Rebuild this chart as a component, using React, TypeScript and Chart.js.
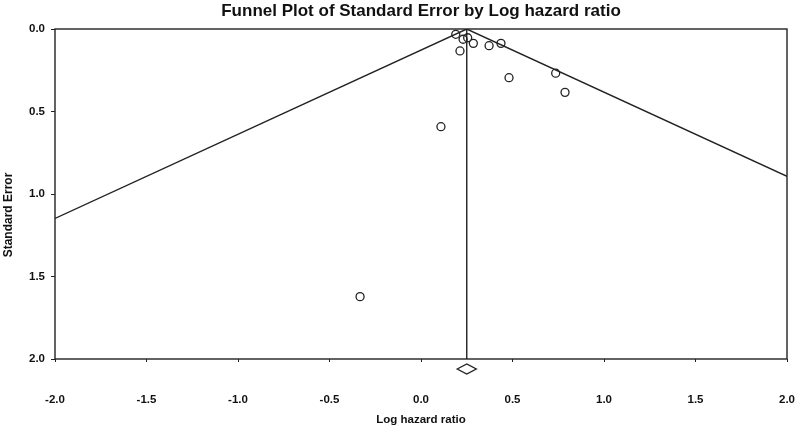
import { useEffect, useRef } from 'react';
import { Chart, registerables } from 'chart.js';

Chart.register(...registerables);

// ---- Data ----
const chartTitle = 'Funnel Plot of Standard Error by Log hazard ratio';
const xAxisTitle = 'Log hazard ratio';
const yAxisTitle = 'Standard Error';

const studyLogHR = [0.19, 0.23, 0.255, 0.286, 0.213, 0.372, 0.437, 0.481, 0.736, 0.787, 0.109, -0.333];
const studySE = [0.032, 0.062, 0.053, 0.087, 0.133, 0.101, 0.087, 0.295, 0.268, 0.384, 0.592, 1.622];

const summaryLogHR = 0.25;
const funnelLeftX = [0.25, -2.0];
const funnelLeftSE = [0, 1.148];
const funnelRightX = [0.25, 2.0];
const funnelRightSE = [0, 0.893];
const meanLineX = [0.25, 0.25];
const meanLineSE = [0, 2.0];

const xMin = -2.0;
const xMax = 2.0;
const xStep = 0.5;
const yMin = 0.0;
const yMax = 2.0;
const yStep = 0.5;

const INK = '#222222';
const FONT = "'Liberation Sans', Arial, sans-serif";

const textPlugin = {
  id: 'funnelText',
  afterDraw(chart: any) {
    const { ctx, chartArea, height } = chart;
    ctx.save();
    // frame
    ctx.strokeStyle = INK;
    ctx.lineWidth = 1.4;
    ctx.strokeRect(chartArea.left, chartArea.top, chartArea.right - chartArea.left, chartArea.bottom - chartArea.top);

    // summary diamond under the axis
    const dx = chart.scales.x.getPixelForValue(summaryLogHR);
    const dy = chartArea.bottom + 10;
    ctx.beginPath();
    ctx.moveTo(dx - 9.5, dy);
    ctx.lineTo(dx, dy - 5);
    ctx.lineTo(dx + 9.5, dy);
    ctx.lineTo(dx, dy + 5);
    ctx.closePath();
    ctx.fillStyle = '#ffffff';
    ctx.fill();
    ctx.stroke();

    ctx.fillStyle = '#111111';
    // title
    ctx.font = `bold 17px ${FONT}`;
    ctx.textAlign = 'center';
    ctx.textBaseline = 'alphabetic';
    ctx.fillText(chartTitle, (chartArea.left + chartArea.right) / 2, 16);
    // x title
    ctx.font = `bold 11.5px ${FONT}`;
    ctx.textBaseline = 'middle';
    ctx.fillText(xAxisTitle, (chartArea.left + chartArea.right) / 2, 420);
    // y title
    ctx.font = `bold 12px ${FONT}`;
    ctx.translate(9, height / 2);
    ctx.rotate(-Math.PI / 2);
    ctx.fillText(yAxisTitle, 0, 0);
    ctx.restore();
  },
};

export default function App() {
  const ref = useRef<HTMLCanvasElement | null>(null);

  useEffect(() => {
    if (!ref.current) return;
    const pts = studyLogHR.map((x, i) => ({ x, y: studySE[i] }));
    const lineStyle = {
      showLine: true,
      pointRadius: 0,
      borderColor: INK,
      borderWidth: 1.4,
      backgroundColor: INK,
      fill: false,
    };
    const chart = new Chart(ref.current, {
      type: 'scatter',
      data: {
        datasets: [
          {
            label: 'Left limit',
            data: funnelLeftX.map((x, i) => ({ x, y: funnelLeftSE[i] })),
            ...lineStyle,
          },
          {
            label: 'Right limit',
            data: funnelRightX.map((x, i) => ({ x, y: funnelRightSE[i] })),
            ...lineStyle,
          },
          {
            label: 'Mean',
            data: meanLineX.map((x, i) => ({ x, y: meanLineSE[i] })),
            ...lineStyle,
          },
          {
            label: 'Studies',
            data: pts,
            pointRadius: 4,
            pointBorderWidth: 1.3,
            pointBorderColor: INK,
            pointBackgroundColor: 'rgba(255,255,255,0)',
            showLine: false,
          },
        ],
      },
      options: {
        animation: false,
        responsive: false,
        devicePixelRatio: 1,
        layout: { padding: { top: 29, right: 11, left: 0, bottom: 0 } },
        plugins: {
          legend: { display: false },
          title: { display: false },
          tooltip: { enabled: false },
        },
        scales: {
          x: {
            type: 'linear',
            min: xMin,
            max: xMax,
            border: { display: false },
            grid: {
              drawOnChartArea: false,
              drawTicks: true,
              tickLength: 3,
              color: INK,
              lineWidth: 1,
            },
            ticks: {
              stepSize: xStep,
              padding: 31,
              color: '#111111',
              font: { family: FONT, size: 11.5, weight: 'bold' },
              callback: (v: any) => Number(v).toFixed(1),
              maxRotation: 0,
            },
            afterFit: (scale: any) => {
              scale.height = 71;
              scale.paddingLeft = 0;
              scale.paddingRight = 0;
            },
          },
          y: {
            type: 'linear',
            reverse: true,
            min: yMin,
            max: yMax,
            border: { display: false },
            grid: {
              drawOnChartArea: false,
              drawTicks: true,
              tickLength: 4,
              color: INK,
              lineWidth: 1,
            },
            ticks: {
              stepSize: yStep,
              padding: 6,
              color: '#111111',
              font: { family: FONT, size: 11.5, weight: 'bold' },
              callback: (v: any) => Number(v).toFixed(1),
            },
            afterFit: (scale: any) => {
              scale.width = 55;
              scale.paddingTop = 0;
              scale.paddingBottom = 0;
            },
          },
        },
      } as any,
      plugins: [textPlugin],
    });
    return () => chart.destroy();
  }, []);

  return (
    <div style={{ position: 'absolute', left: 0, top: 0, width: 798, height: 430, background: '#fff' }}>
      <canvas ref={ref} width={798} height={430} style={{ display: 'block' }} />
    </div>
  );
}
